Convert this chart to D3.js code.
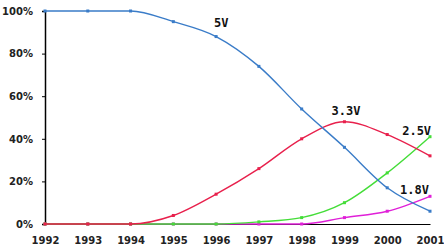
<!DOCTYPE html>
<html><head><meta charset="utf-8">
<script src="https://cdn.jsdelivr.net/npm/d3@7"></script>
<style>body{margin:0;background:#fff}svg{display:block}</style>
</head><body>
<script>
const years = [1992,1993,1994,1995,1996,1997,1998,1999,2000,2001];
const v50 = [100,100,100,95,88,74,54,36,17,6];
const v33 = [0,0,0,4,14,26,40,48,42,32];
const v25 = [0,0,0,0,0,1,3,10,24,41];
const v18 = [0,0,0,0,0,0,0,3,6,13];
const yTicks = [0,20,40,60,80,100];
const series = [
  {name:"5V", values:v50, color:"#3a7cc8", lx:1995.95, ly:92.5},
  {name:"3.3V", values:v33, color:"#e8204c", lx:1998.7, ly:51},
  {name:"2.5V", values:v25, color:"#44dd38", lx:2000.35, ly:42},
  {name:"1.8V", values:v18, color:"#e020d8", lx:2000.3, ly:14}
];
const W=444,H=250;
const svg=d3.select("body").append("svg").attr("width",W).attr("height",H);
const x=d3.scaleLinear().domain([1992,2001]).range([45,430]);
const y=d3.scaleLinear().domain([0,100]).range([224,11]);
const ya=svg.append("g").attr("transform","translate(45,0)")
  .call(d3.axisLeft(y).tickValues(yTicks).tickFormat(d=>d+"%").tickSize(3).tickPadding(9));
ya.select(".domain").attr("stroke","#000").attr("stroke-width",1.5);
ya.selectAll("text").attr("font-family","DejaVu Sans").attr("font-weight","bold").attr("font-size",10).attr("fill","#222");
const xa=svg.append("g").attr("transform","translate(0,224)")
  .call(d3.axisBottom(x).tickValues(years).tickFormat(d3.format("d")).tickSize(0).tickPadding(13));
xa.select(".domain").attr("stroke","#000");
xa.selectAll("text").attr("font-family","DejaVu Sans").attr("font-weight","bold").attr("font-size",10).attr("fill","#222");
const line=d3.line().x((d,i)=>x(years[i])).y(d=>y(d)).curve(d3.curveMonotoneX);
series.slice().reverse().forEach(s=>{
  svg.append("path").datum(s.values).attr("d",line).attr("fill","none")
    .attr("stroke",s.color).attr("stroke-width",1.4);
  svg.selectAll(null).data(s.values).enter().append("rect")
    .attr("x",(d,i)=>x(years[i])-1.5).attr("y",d=>y(d)-1.5)
    .attr("width",3).attr("height",3).attr("fill",s.color);
});
series.forEach(s=>{
  svg.append("text").attr("x",x(s.lx)).attr("y",y(s.ly))
    .attr("font-family","DejaVu Sans Mono").attr("font-weight","bold").attr("font-size",12)
    .attr("fill","#111").text(s.name);
});
</script>
</body></html>
